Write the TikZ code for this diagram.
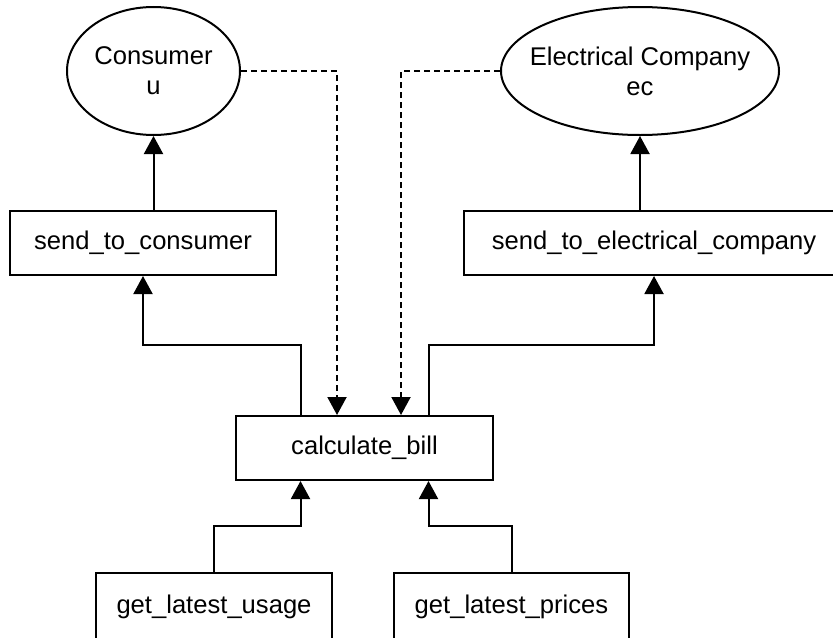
\documentclass[tikz,border=0pt]{standalone}
\usepackage{fontspec}
\setmainfont{Liberation Sans}
\usetikzlibrary{shapes.geometric,arrows.meta}

\begin{document}
\begin{tikzpicture}[x=0.5pt,y=-0.5pt,
  fn/.style={draw,line width=1pt,minimum height=32pt,inner sep=0pt,font=\fontsize{12.8}{15}\selectfont},
  actor/.style={draw,ellipse,line width=1pt,minimum height=64pt,inner xsep=-12pt,inner ysep=0pt,align=center,font=\fontsize{12.8}{15}\selectfont},
  flow/.style={line width=1pt,-{Triangle[width=9.5pt,length=9pt]}},
  dep/.style={flow,dash pattern=on 3pt off 2pt}]
\clip (0,0) rectangle (833,637);
% actors
\node[actor,minimum width=86.5pt] (cons) at (153.5,71) {Consumer\\u};
\node[actor,minimum width=139pt] (ec) at (640,71) {Electrical Company\\ec};
% functions
\node[fn,minimum width=133pt] (stc) at (143,243) {send\_to\_consumer};
\node[fn,minimum width=190pt] (stec) at (654,243) {send\_to\_electrical\_company};
\node[fn,minimum width=128.5pt] (calc) at (364.5,448) {calculate\_bill};
\node[fn,minimum width=118pt,minimum height=34pt] (usage) at (214,607) {get\_latest\_usage};
\node[fn,minimum width=117.5pt,minimum height=34pt] (prices) at (511.5,607) {get\_latest\_prices};
% data flow
\draw[flow] (usage.north) -- ++(0,-46) -| ([xshift=-32pt]calc.south);
\draw[flow] (prices.north) -- ++(0,-46) -| ([xshift=32pt]calc.south);
\draw[flow] ([xshift=-32pt]calc.north) -- ++(0,-70) -| (stc.south);
\draw[flow] ([xshift=32pt]calc.north) -- ++(0,-70) -| (stec.south);
\draw[flow] (stc.north -| cons.south) -- (cons.south);
\draw[flow] (stec.north -| ec.south) -- (ec.south);
% inputs from actors
\draw[dep] (cons.east) -| ([xshift=-13.75pt]calc.north);
\draw[dep] (ec.west) -| ([xshift=18.25pt]calc.north);
\end{tikzpicture}
\end{document}
